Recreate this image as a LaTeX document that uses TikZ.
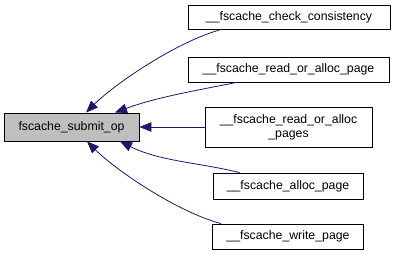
\documentclass[tikz,border=0pt]{standalone}
\usepackage{fontspec}
\setmainfont{Liberation Sans}
\usetikzlibrary{arrows.meta}
\definecolor{edgeblue}{RGB}{25,25,112}
\definecolor{mainfill}{RGB}{191,191,191}
\begin{document}
\begin{tikzpicture}[x=1pt,y=-1pt,
  fnbox/.style={draw=black,line width=0.8pt,fill=white,rectangle,inner sep=0pt,
    font=\fontsize{12.3}{14}\selectfont,align=center},
  edge/.style={draw=edgeblue,line width=0.8pt,-{Triangle[length=12pt,width=9.5pt]}}]
\useasboundingbox (0,0) rectangle (395,256);
% caller / callee boxes
\node[fnbox,fill=mainfill,minimum width=135pt,minimum height=28pt] (main) at (71.5,127) {fscache\_submit\_op};
\node[fnbox,minimum width=202pt,minimum height=24pt] (cc) at (289,17) {\_\_fscache\_check\_consistency};
\node[fnbox,minimum width=201pt,minimum height=25pt] (rap) at (288.5,69.5) {\_\_fscache\_read\_or\_alloc\_page};
\node[fnbox,minimum width=167pt,minimum height=40pt] (raps) at (288.5,127) {\_\_fscache\_read\_or\_alloc\\\_pages};
\node[fnbox,minimum width=150pt,minimum height=26pt] (ap) at (288,186) {\_\_fscache\_alloc\_page};
\node[fnbox,minimum width=151pt,minimum height=25pt] (wp) at (288,236.5) {\_\_fscache\_write\_page};
% call edges
\draw[edge] ([xshift=34pt]cc.south west) .. controls +(-45,12) and +(28,-28) .. ([xshift=14.5pt]main.north);
\draw[edge] ([xshift=49pt]rap.south west) .. controls +(-40,8) and +(40,-15) .. ([xshift=43.5pt]main.north);
\draw[edge] (raps.west) -- (main.east);
\draw[edge] ([xshift=27pt]ap.north west) .. controls +(-40,-10) and +(40,20) .. ([xshift=48.5pt]main.south);
\draw[edge] ([xshift=9pt]wp.north west) .. controls +(-45,-12) and +(28,28) .. ([xshift=15.5pt]main.south);
\end{tikzpicture}
\end{document}
